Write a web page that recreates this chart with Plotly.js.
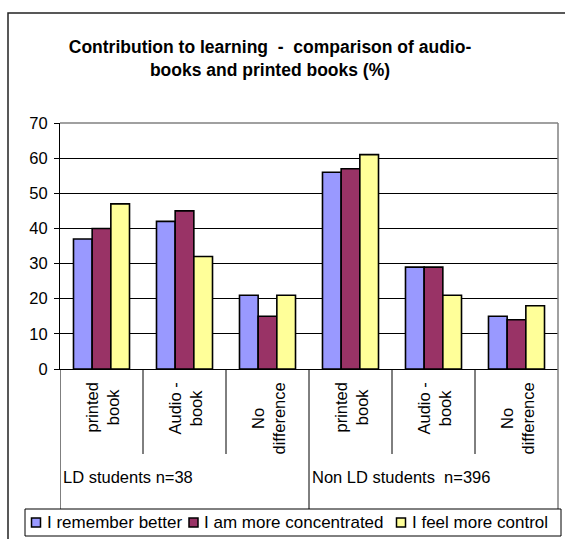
<!DOCTYPE html>
<html>
<head>
<meta charset="utf-8">
<script src="https://cdn.plot.ly/plotly-3.0.1.min.js"></script>
<style>
  html, body { margin: 0; padding: 0; background: #ffffff; }
  #chart { width: 565px; height: 539px; }
</style>
</head>
<body>
<div id="chart"></div>
<script>
// Survey groups and the answer given for each group
const groups = ['LD students n=38', 'Non LD students&nbsp; n=396'];
const answers = ['printed book', 'Audio - book', 'No difference'];
const answerLabels = ['printed<br>book', 'Audio -<br>book', 'No<br>difference'];

// Percentages per statement, in order: LD (printed, audio, none), Non LD (printed, audio, none)
const seriesNames = ['I remember better', 'I am more concentrated', 'I feel more control'];
const rememberBetter = [37, 42, 21, 56, 29, 15];
const moreConcentrated = [40, 45, 15, 57, 29, 14];
const moreControl = [47, 32, 21, 61, 21, 18];
const seriesColors = ['#9999FF', '#993366', '#FFFF99'];

const yTicks = [0, 10, 20, 30, 40, 50, 60, 70];

// One category per (group, answer) pair
const categories = [];
groups.forEach(g => answers.forEach(a => categories.push(g + ' | ' + a)));

const FONT = 'Liberation Sans, Arial, Helvetica, sans-serif';
const W = 565, H = 539;
// plot area in pixels
const PL = 60, PR = 558, PT = 123, PB = 369;
const px = v => (v - PL) / (PR - PL);      // pixel x -> paper x
const py = v => (PB - v) / (PB - PT);      // pixel y -> paper y

const seriesValues = [rememberBetter, moreConcentrated, moreControl];
const traces = seriesValues.map((vals, i) => ({
  type: 'bar',
  name: seriesNames[i],
  x: categories,
  y: vals,
  marker: { color: seriesColors[i], line: { color: '#000000', width: 1.6 } },
  showlegend: false,
  hoverinfo: 'x+y+name'
}));

const shapes = [];
const annotations = [];

// outer chart frame (left and top edges)
shapes.push({
  type: 'path', xref: 'paper', yref: 'paper', layer: 'below',
  path: `M${px(8)},${py(600)} L${px(8)},${py(13)} L${px(700)},${py(13)}`,
  line: { color: '#222222', width: 1.5 }
});

// top and right edges of the plot area
shapes.push({ type: 'line', xref: 'paper', yref: 'paper', x0: 0, x1: 1, y0: 1, y1: 1,
  line: { color: '#808080', width: 1.5 } });
shapes.push({ type: 'line', xref: 'paper', yref: 'paper', x0: 1, x1: 1, y0: py(509), y1: 1,
  line: { color: '#808080', width: 1.5 } });

// dividers between answers (short) and between groups (long)
[0.5, 1.5, 3.5, 4.5].forEach(b => shapes.push({
  type: 'line', xref: 'x', yref: 'paper', x0: b, x1: b, y0: 0, y1: py(454),
  line: { color: '#000000', width: 1 }
}));
[-0.5, 2.5].forEach(b => shapes.push({
  type: 'line', xref: 'x', yref: 'paper', x0: b, x1: b, y0: 0, y1: py(509),
  line: { color: '#000000', width: 1 }
}));

// rotated answer labels under each category
categories.forEach((c, i) => annotations.push({
  xref: 'x', yref: 'paper', x: i, y: py(381),
  xanchor: 'center', yanchor: 'top',
  text: answerLabels[i % answers.length],
  textangle: -90, align: 'center', showarrow: false,
  font: { family: FONT, size: 16.5, color: '#000000' }
}));

// group labels
groups.forEach((g, gi) => annotations.push({
  xref: 'x', yref: 'paper', x: gi * answers.length - 0.5, y: py(477),
  xanchor: 'left', yanchor: 'middle', xshift: 1,
  text: g, showarrow: false,
  font: { family: FONT, size: 16.5, color: '#000000' }
}));

// legend box with swatches
shapes.push({ type: 'rect', xref: 'paper', yref: 'paper',
  x0: px(25), x1: px(561), y0: py(536), y1: py(509),
  line: { color: '#000000', width: 1 }, fillcolor: 'rgba(0,0,0,0)' });
const swatchX = [31.5, 189, 396.5];
const labelX = [45, 201.5, 409.5];
seriesNames.forEach((n, i) => {
  shapes.push({ type: 'rect', xref: 'paper', yref: 'paper',
    x0: px(swatchX[i]), x1: px(swatchX[i] + 9), y0: py(527), y1: py(518),
    line: { color: '#000000', width: 1.5 }, fillcolor: seriesColors[i] });
  annotations.push({ xref: 'paper', yref: 'paper', x: px(labelX[i]), y: py(522.5),
    xanchor: 'left', yanchor: 'middle', text: n, showarrow: false,
    font: { family: FONT, size: 17, color: '#000000' } });
});

const layout = {
  width: W, height: H,
  margin: { l: PL, r: W - PR, t: PT, b: H - PB, pad: 0 },
  paper_bgcolor: '#ffffff', plot_bgcolor: '#ffffff',
  font: { family: FONT, size: 16, color: '#000000' },
  title: {
    text: '<b>Contribution to learning&nbsp; -&nbsp; comparison of audio-<br>books and printed books (%)</b>',
    font: { family: FONT, size: 17.5, color: '#000000' },
    x: 270 / W, xanchor: 'center', xref: 'container',
    y: 1 - 53 / H, yanchor: 'middle', yref: 'container'
  },
  barmode: 'group', bargap: 0.325, bargroupgap: 0,
  xaxis: {
    type: 'category', categoryorder: 'array', categoryarray: categories,
    range: [-0.5, categories.length - 0.5], fixedrange: true,
    showticklabels: false, ticks: '', showgrid: false, zeroline: false,
    showline: true, linecolor: '#000000', linewidth: 1
  },
  yaxis: {
    range: [0, 70], tickvals: yTicks, ticktext: yTicks.map(String),
    ticks: 'outside', ticklen: 5, tickcolor: '#000000', tickwidth: 1,
    ticklabelstandoff: 3,
    showline: true, linecolor: '#000000', linewidth: 1,
    showgrid: true, gridcolor: '#000000', gridwidth: 1, zeroline: false,
    tickfont: { family: FONT, size: 16.5, color: '#000000' }, fixedrange: true
  },
  shapes: shapes,
  annotations: annotations,
  showlegend: false
};

Plotly.newPlot('chart', traces, layout, { displayModeBar: false, staticPlot: true });
</script>
</body>
</html>
